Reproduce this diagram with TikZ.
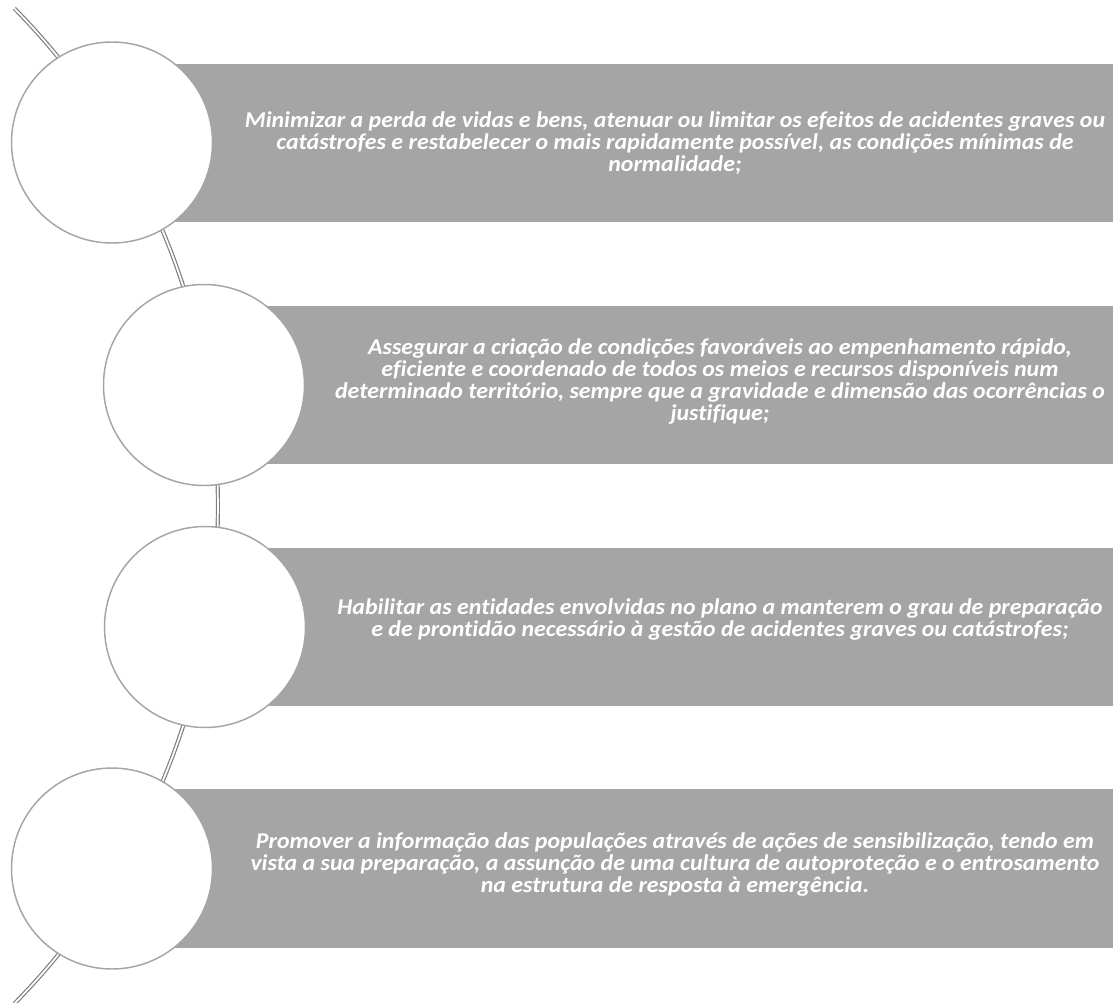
\documentclass[tikz,border=0pt]{standalone}
\usepackage{fontspec}
\setmainfont{Carlito}
\newfontfamily\lblfont[FakeStretch=1.06,Ligatures={NoCommon}]{Carlito}
\definecolor{boxgray}{HTML}{A5A5A5}
\definecolor{arcgray}{HTML}{7F7F7F}
\begin{document}
\begin{tikzpicture}[x=0.75pt,y=-0.75pt,
  bullet/.style={circle,draw=boxgray,line width=1.1pt,fill=white,minimum size=150.75pt,inner sep=0pt},
  band/.style={fill=boxgray,draw=none},
  label/.style={text=white,align=center,font=\lblfont\fontsize{16.9pt}{16.5pt}\selectfont\bfseries\itshape,inner sep=0pt}]
\useasboundingbox (0,0) rectangle (1115,1003);
\coordinate (arcc) at (-492,506);
\draw[arcgray,line width=0.9pt,double=white,double distance=1.3pt] (arcc) ++(44.5:532.5pt) arc[start angle=44.5,end angle=-44.5,radius=532.5pt];
% bands
\fill[band] (112,64) rectangle (1113,222);
\fill[band] (204,306) rectangle (1113,464);
\fill[band] (205,548) rectangle (1113,706);
\fill[band] (112,789) rectangle (1113,948);
% circles
\node[bullet] (c1) at (112,142.5) {};
\node[bullet] (c2) at (204,385) {};
\node[bullet] (c3) at (205,627) {};
\node[bullet] (c4) at (112,868.5) {};
% texts
\node[label] (t1) at (675,143) {Minimizar a perda de vidas e bens, atenuar ou limitar os efeitos de acidentes graves ou\\catástrofes e restabelecer o mais rapidamente possível, as condições mínimas de\\normalidade;};
\node[label] (t2) at (720,381) {Assegurar a criação de condições favoráveis ao empenhamento rápido,\\eficiente e coordenado de todos os meios e recursos disponíveis num\\determinado território, sempre que a gravidade e dimensão das ocorrências o\\justifique;};
\node[label] (t3) at (720,619) {Habilitar as entidades envolvidas no plano a manterem o grau de preparação\\e de prontidão necessário à gestão de acidentes graves ou catástrofes;};
\node[label] (t4) at (675,864) {Promover a informação das populações através de ações de sensibilização, tendo em\\vista a sua preparação, a assunção de uma cultura de autoproteção e o entrosamento\\na estrutura de resposta à emergência.};
\end{tikzpicture}
\end{document}
